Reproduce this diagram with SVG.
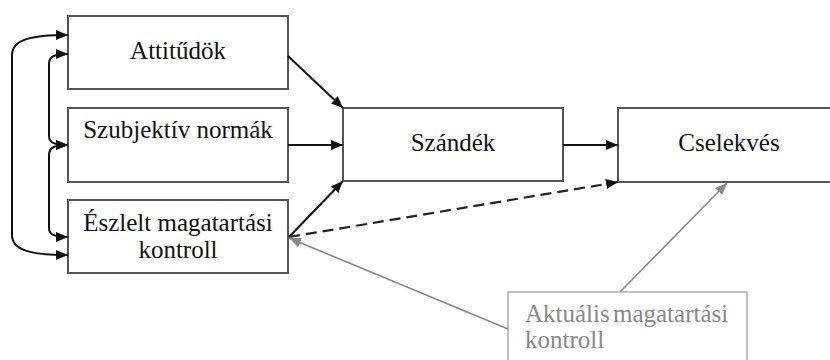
<svg xmlns="http://www.w3.org/2000/svg" width="830" height="360" viewBox="0 0 830 360">
<defs>
<style>
.box{fill:#fff;stroke:#555;stroke-width:2}
.gbox{fill:#fff;stroke:#aaa;stroke-width:1.5}
.t{font-family:"Liberation Serif","Times New Roman",serif;font-size:25px;fill:#111;text-anchor:middle}
.gt{font-family:"Liberation Serif","Times New Roman",serif;font-size:25px;fill:#888;word-spacing:-3px}
.c{fill:none;stroke:#111;stroke-width:2}
.d{fill:none;stroke:#222;stroke-width:2.2;stroke-dasharray:11 6}
.g{fill:none;stroke:#888;stroke-width:1.6}
</style>
<marker id="a" viewBox="0 0 12 10" refX="12" refY="5" markerWidth="12" markerHeight="10" markerUnits="userSpaceOnUse" orient="auto-start-reverse">
<path d="M0 0 L12 5 L0 10 Z" fill="#111"/>
</marker>
<marker id="ga" viewBox="0 0 12 10" refX="12" refY="5" markerWidth="12" markerHeight="10" markerUnits="userSpaceOnUse" orient="auto">
<path d="M0 0 L12 5 L0 10 Z" fill="#888"/>
</marker>
</defs>
<g id="attitudok"><rect class="box" x="68" y="16" width="220" height="73"/><text class="t" x="178" y="59">Attitűdök</text></g>
<g id="szubjektiv"><rect class="box" x="68" y="108" width="220" height="74"/><text class="t" x="178" y="138">Szubjektív normák</text></g>
<g id="eszlelt"><rect class="box" x="68" y="200" width="220" height="73"/><text class="t" x="178" y="231">Észlelt magatartási</text><text class="t" x="178" y="258">kontroll</text></g>
<g id="szandek"><rect class="box" x="343" y="108" width="220" height="73"/><text class="t" x="453" y="151">Szándék</text></g>
<g id="cselekves"><rect class="box" x="618" y="108" width="222" height="74"/><text class="t" x="729" y="151">Cselekvés</text></g>
<g id="aktualis"><rect class="gbox" x="508" y="292" width="239" height="80"/><text class="gt" x="525" y="322">Aktuális magatartási</text><text class="gt" x="525" y="348">kontroll</text></g>
<g id="connectors">
<path class="c" d="M68 35 C30 35 12 40 12 55 L12 235 C12 250 30 255 68 255" marker-start="url(#a)" marker-end="url(#a)"/>
<path class="c" d="M68 54 C55 54 49 56 49 64 L49 136 C49 143 55 145 68 145" marker-start="url(#a)" marker-end="url(#a)"/>
<path class="c" d="M68 145 C55 145 49 147 49 155 L49 228 C49 235 55 237 68 237" marker-start="url(#a)" marker-end="url(#a)"/>
<path class="c" d="M288 56 L343 108" marker-end="url(#a)"/>
<path class="c" d="M288 145 L343 145" marker-end="url(#a)"/>
<path class="c" d="M289 237 L343 181" marker-end="url(#a)"/>
<path class="c" d="M563 145 L618 145" marker-end="url(#a)"/>
<path class="d" d="M289 237 L618 182" marker-end="url(#a)"/>
<path class="g" d="M508 329 L289 238" marker-end="url(#ga)"/>
<path class="g" d="M620 292 L727 183" marker-end="url(#ga)"/>
</g>
</svg>
